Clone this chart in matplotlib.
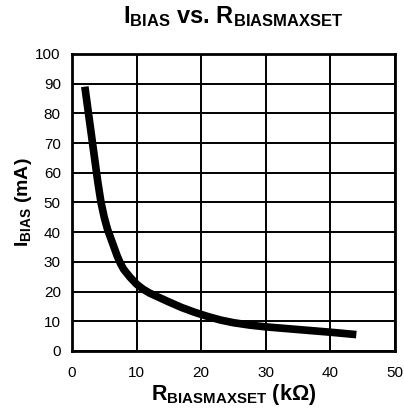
import matplotlib
matplotlib.use('Agg')
import matplotlib.pyplot as plt

plt.rcParams['font.family'] = ['Liberation Sans', 'DejaVu Sans']
plt.rcParams['mathtext.fontset'] = 'custom'
plt.rcParams['mathtext.rm'] = 'Liberation Sans'
plt.rcParams['mathtext.bf'] = 'Liberation Sans:bold'
plt.rcParams['mathtext.it'] = 'Liberation Sans:italic'

# data
r_set = [2, 2.5, 3, 3.5, 4, 4.5, 5, 5.5, 6, 6.5, 7, 7.5, 8, 9, 10, 11, 12,
         13.5, 15, 17, 19, 21, 23, 25, 27.5, 30, 35, 40, 44]
i_bias = [89, 81, 73, 65, 57, 50, 45, 41, 38, 35, 32, 29.5, 27.5, 24.8, 22.5,
          20.8, 19.5, 18, 16.5, 14.6, 13, 11.6, 10.4, 9.5, 8.7, 8.1, 7.2, 6.3, 5.5]
x_ticks = [0, 10, 20, 30, 40, 50]
y_ticks = [0, 10, 20, 30, 40, 50, 60, 70, 80, 90, 100]

fig = plt.figure(figsize=(4.04, 4.09), dpi=100)
ax = fig.add_axes([0.178, 0.142, 0.8, 0.726])

ax.plot(r_set, i_bias, color='black', lw=5.5, solid_capstyle='butt',
        solid_joinstyle='round', zorder=3)

ax.set_xlim(0, 50)
ax.set_ylim(0, 100)
ax.set_xticks(x_ticks)
ax.set_yticks(y_ticks)
ax.grid(True, color='black', lw=1.4)
for s in ax.spines.values():
    s.set_linewidth(2)
ax.tick_params(length=0, labelsize=11, pad=11)
ax.tick_params(axis='y', pad=8)

ax.set_xlabel(r'$\mathbf{R_{BIASMAXSET}}$ (k$\mathbf{\Omega}$)', fontsize=15.5,
              fontweight='bold', labelpad=1)
ax.set_ylabel(r'$\mathbf{I_{BIAS}}$ (mA)', fontsize=14, fontweight='bold', labelpad=1)
ax.set_title(r'$\mathbf{I_{BIAS}}$ vs. $\mathbf{R_{BIASMAXSET}}$', fontsize=17,
             fontweight='bold', pad=22)

fig.savefig('out.png', dpi=100)
